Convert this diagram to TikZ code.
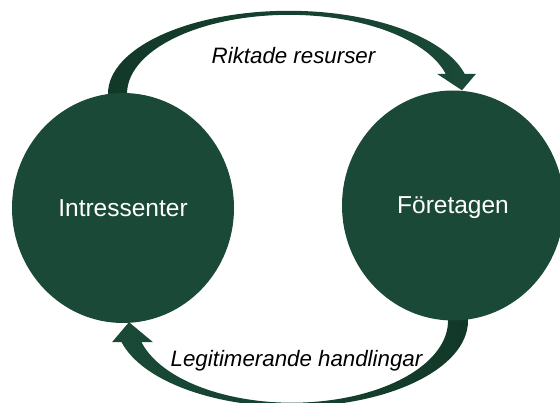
\documentclass[tikz,border=0pt]{standalone}
\usepackage{fontspec}
\setmainfont{Liberation Sans}
\usepackage{tikz}
\usetikzlibrary{calc,shapes.geometric,backgrounds}

\definecolor{nodegreen}{HTML}{1A4A37}
\definecolor{arrowdark}{HTML}{123828}

\begin{document}
\begin{tikzpicture}[
      x=1pt, y=-1pt
    ]
    
    \tikzstyle{bubble} = [ellipse, minimum width=222pt, minimum height=230pt, inner sep=0pt, fill=nodegreen, text=white, text height=17pt, text depth=0pt, font=\fontsize{24.5}{29}\selectfont]
    
    \tikzstyle{flowlabel} = [anchor=base, inner sep=0pt, font=\fontsize{22.3}{27}\selectfont\itshape]
    
    \useasboundingbox (0,0) rectangle (560,403);
    
    \node [bubble] (intr) at (123,208) {Intressenter};
    \node [bubble] (foret) at (453,205.5) {Företagen};
    
    \node [flowlabel] (resurser) at (293.5,64) {Riktade resurser};
    \node [flowlabel] (handling) at (296.5,367) {Legitimerande handlingar};
    
    \begin{pgfonlayer}{background}
    % upper arrow, Intressenter to Företagen
    \shade [left color=arrowdark, right color=nodegreen] ($(intr.north)+(-15,7)$) -- ++(0,-6)
        arc [start angle=180, end angle=346.1, x radius=181, y radius=83]
        -- ($(foret.north)+(23,-16.5)$) -- ($(foret.north)+(9,0)$) -- ($(foret.north)+(-16,-16.5)$)
        -- ($(foret.north)+(-7.3,-16.5)$)
        arc [start angle=345.3, end angle=180, x radius=162, y radius=79]
        -- ++(0,6) -- cycle;
    % lower arrow, Företagen to Intressenter
    \shade [left color=nodegreen, right color=arrowdark] ($(foret.south)+(15,-6)$) -- ++(0,6)
        arc [start angle=0, end angle=165.5, x radius=176, y radius=86]
        -- ($(intr.south)+(-11,19)$) -- ($(intr.south)+(6,-1)$) -- ($(intr.south)+(30,19)$)
        -- ($(intr.south)+(18.5,19)$)
        arc [start angle=164.8, end angle=0, x radius=156, y radius=82]
        -- ++(0,-6) -- cycle;
    \end{pgfonlayer}

\end{tikzpicture}
\end{document}
